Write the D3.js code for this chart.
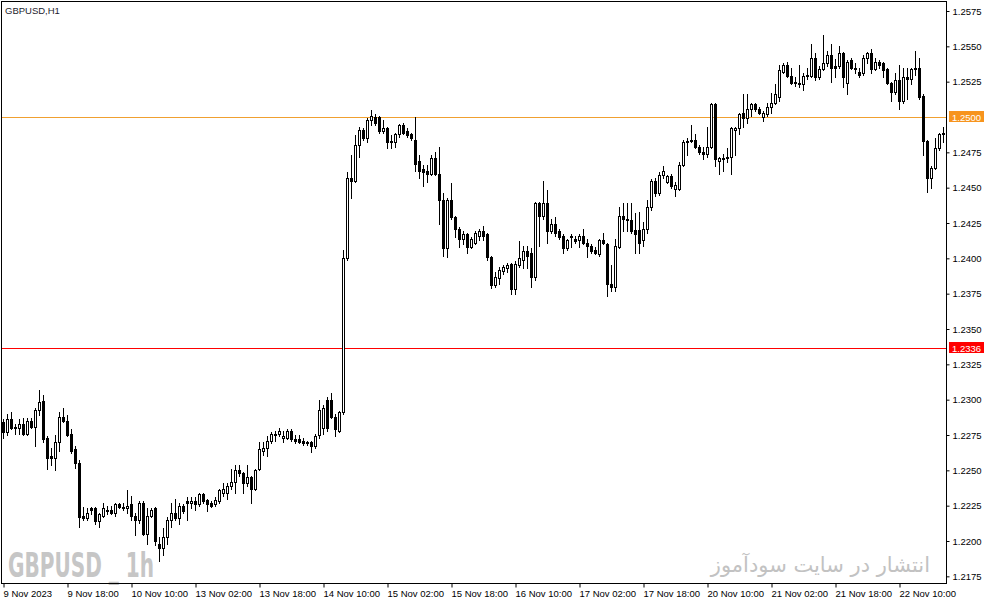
<!DOCTYPE html>
<html><head><meta charset="utf-8">
<script src="https://cdn.jsdelivr.net/npm/d3@7"></script>
<style>body{margin:0;background:#fff}svg{display:block}</style>
</head><body>
<svg id="c" width="987" height="605"></svg>
<script>
// ---- DATA (GBPUSD H1, 9 Nov 2023 02:00 ... 22 Nov 2023 21:00) ----
const open = [1.2284,1.2277,1.2286,1.2281,1.2280,1.2283,1.2276,1.2285,1.2281,1.2293,1.2299,1.2273,1.2260,1.2259,1.2270,1.2288,1.2285,1.2276,1.2265,1.2255,
1.2218,1.2216,1.2223,1.2223,1.2214,1.2218,1.2221,1.2222,1.2220,1.2226,1.2224,1.2223,1.2226,1.2218,1.2215,1.2227,1.2205,1.2218,1.2223,1.2198,
1.2195,1.2203,1.2215,1.2220,1.2216,1.2225,1.2228,1.2227,1.2228,1.2226,1.2233,1.2229,1.2227,1.2226,1.2228,1.2234,1.2234,1.2239,1.2242,1.2250,
1.2248,1.2241,1.2245,1.2237,1.2251,1.2264,1.2266,1.2271,1.2276,1.2276,1.2273,1.2273,1.2278,1.2272,1.2272,1.2271,1.2270,1.2270,1.2267,1.2275,
1.2280,1.2300,1.2300,1.2288,1.2278,1.2291,1.2400,1.2457,1.2455,1.2480,1.2491,1.2485,1.2498,1.2500,1.2500,1.2490,1.2492,1.2483,1.2482,1.2488,
1.2494,1.2490,1.2488,1.2484,1.2469,1.2463,1.2462,1.2460,1.2471,1.2460,1.2441,1.2407,1.2441,1.2429,1.2421,1.2414,1.2417,1.2408,1.2411,1.2416,
1.2419,1.2417,1.2401,1.2381,1.2386,1.2391,1.2393,1.2396,1.2378,1.2395,1.2399,1.2405,1.2404,1.2387,1.2439,1.2430,1.2439,1.2419,1.2424,1.2419,
1.2416,1.2407,1.2415,1.2414,1.2413,1.2416,1.2411,1.2409,1.2406,1.2403,1.2413,1.2410,1.2382,1.2380,1.2408,1.2430,1.2427,1.2427,1.2420,1.2420,
1.2413,1.2421,1.2436,1.2455,1.2446,1.2459,1.2454,1.2458,1.2449,1.2449,1.2466,1.2482,1.2484,1.2484,1.2479,1.2475,1.2474,1.2479,1.2509,1.2469,
1.2470,1.2471,1.2472,1.2491,1.2492,1.2503,1.2499,1.2506,1.2509,1.2506,1.2500,1.2502,1.2507,1.2510,1.2514,1.2532,1.2537,1.2529,1.2525,1.2524,
1.2523,1.2530,1.2529,1.2542,1.2528,1.2534,1.2538,1.2544,1.2536,1.2536,1.2545,1.2524,1.2540,1.2535,1.2532,1.2531,1.2542,1.2545,1.2534,1.2539,
1.2538,1.2534,1.2524,1.2518,1.2526,1.2511,1.2528,1.2527,1.2534,1.2535,1.2515,1.2483,1.2457,1.2464,1.2478,1.2489];
const high = [1.2286,1.2290,1.2291,1.2283,1.2286,1.2287,1.2287,1.2287,1.2294,1.2307,1.2303,1.2274,1.2266,1.2275,1.2291,1.2294,1.2289,1.2279,1.2267,1.2257,
1.2224,1.2223,1.2224,1.2224,1.2220,1.2227,1.2225,1.2225,1.2227,1.2227,1.2227,1.2236,1.2232,1.2220,1.2228,1.2228,1.2223,1.2223,1.2224,1.2203,
1.2209,1.2217,1.2227,1.2230,1.2227,1.2226,1.2231,1.2231,1.2231,1.2234,1.2234,1.2230,1.2228,1.2231,1.2237,1.2241,1.2241,1.2251,1.2254,1.2254,
1.2249,1.2254,1.2246,1.2251,1.2270,1.2270,1.2274,1.2277,1.2278,1.2280,1.2278,1.2279,1.2279,1.2275,1.2275,1.2273,1.2271,1.2271,1.2276,1.2300,
1.2296,1.2302,1.2305,1.2290,1.2292,1.2406,1.2461,1.2473,1.2487,1.2493,1.2492,1.2499,1.2505,1.2502,1.2501,1.2498,1.2493,1.2487,1.2489,1.2495,
1.2496,1.2492,1.2489,1.2500,1.2473,1.2466,1.2466,1.2473,1.2475,1.2479,1.2446,1.2443,1.2453,1.2430,1.2422,1.2419,1.2418,1.2415,1.2419,1.2421,
1.2423,1.2418,1.2402,1.2390,1.2394,1.2395,1.2397,1.2397,1.2398,1.2412,1.2409,1.2409,1.2407,1.2440,1.2440,1.2455,1.2448,1.2428,1.2429,1.2421,
1.2417,1.2414,1.2417,1.2416,1.2417,1.2421,1.2414,1.2410,1.2408,1.2414,1.2418,1.2411,1.2395,1.2414,1.2436,1.2439,1.2439,1.2439,1.2432,1.2433,
1.2426,1.2441,1.2456,1.2457,1.2461,1.2465,1.2459,1.2460,1.2454,1.2468,1.2484,1.2485,1.2494,1.2488,1.2480,1.2479,1.2493,1.2510,1.2510,1.2472,
1.2474,1.2478,1.2493,1.2493,1.2503,1.2516,1.2516,1.2510,1.2510,1.2507,1.2504,1.2510,1.2517,1.2523,1.2537,1.2538,1.2539,1.2535,1.2528,1.2537,
1.2531,1.2535,1.2552,1.2545,1.2536,1.2558,1.2547,1.2552,1.2541,1.2550,1.2546,1.2540,1.2542,1.2538,1.2535,1.2544,1.2546,1.2548,1.2542,1.2540,
1.2539,1.2535,1.2525,1.2531,1.2537,1.2535,1.2535,1.2535,1.2547,1.2542,1.2516,1.2484,1.2465,1.2485,1.2489,1.2493];
const low = [1.2273,1.2275,1.2279,1.2276,1.2276,1.2275,1.2275,1.2280,1.2267,1.2289,1.2270,1.2251,1.2254,1.2250,1.2264,1.2284,1.2274,1.2262,1.2252,1.2210,
1.2215,1.2215,1.2219,1.2212,1.2210,1.2217,1.2219,1.2219,1.2218,1.2223,1.2222,1.2220,1.2215,1.2204,1.2213,1.2204,1.2198,1.2217,1.2197,1.2186,
1.2190,1.2198,1.2210,1.2215,1.2212,1.2220,1.2215,1.2223,1.2222,1.2225,1.2227,1.2221,1.2224,1.2225,1.2227,1.2232,1.2230,1.2237,1.2234,1.2246,
1.2234,1.2239,1.2227,1.2236,1.2250,1.2261,1.2260,1.2269,1.2271,1.2274,1.2270,1.2272,1.2271,1.2269,1.2269,1.2268,1.2268,1.2263,1.2266,1.2273,
1.2276,1.2278,1.2287,1.2274,1.2277,1.2290,1.2399,1.2443,1.2454,1.2472,1.2484,1.2482,1.2494,1.2494,1.2489,1.2489,1.2478,1.2478,1.2479,1.2486,
1.2488,1.2486,1.2484,1.2462,1.2457,1.2451,1.2454,1.2459,1.2459,1.2424,1.2402,1.2401,1.2428,1.2415,1.2408,1.2410,1.2404,1.2407,1.2410,1.2413,
1.2413,1.2399,1.2379,1.2380,1.2382,1.2389,1.2390,1.2375,1.2375,1.2394,1.2393,1.2393,1.2380,1.2385,1.2409,1.2428,1.2411,1.2418,1.2416,1.2414,
1.2404,1.2406,1.2408,1.2411,1.2408,1.2410,1.2401,1.2404,1.2403,1.2402,1.2410,1.2373,1.2377,1.2377,1.2407,1.2419,1.2419,1.2418,1.2404,1.2404,
1.2409,1.2418,1.2434,1.2444,1.2445,1.2457,1.2453,1.2450,1.2444,1.2448,1.2465,1.2473,1.2482,1.2478,1.2474,1.2470,1.2472,1.2478,1.2465,1.2460,
1.2462,1.2468,1.2460,1.2473,1.2488,1.2493,1.2496,1.2501,1.2504,1.2502,1.2497,1.2501,1.2503,1.2509,1.2511,1.2531,1.2528,1.2523,1.2522,1.2521,
1.2519,1.2527,1.2528,1.2526,1.2527,1.2533,1.2536,1.2525,1.2528,1.2535,1.2521,1.2516,1.2534,1.2531,1.2528,1.2530,1.2538,1.2531,1.2533,1.2535,
1.2528,1.2523,1.2511,1.2516,1.2506,1.2510,1.2513,1.2523,1.2530,1.2513,1.2473,1.2447,1.2450,1.2463,1.2477,1.2482];
const close = [1.2277,1.2286,1.2280,1.2280,1.2283,1.2276,1.2285,1.2281,1.2293,1.2298,1.2272,1.2259,1.2259,1.2270,1.2288,1.2285,1.2275,1.2264,1.2255,1.2217,
1.2216,1.2220,1.2222,1.2214,1.2219,1.2223,1.2222,1.2220,1.2226,1.2224,1.2223,1.2225,1.2218,1.2215,1.2227,1.2205,1.2218,1.2222,1.2200,1.2195,
1.2203,1.2215,1.2220,1.2216,1.2225,1.2221,1.2227,1.2228,1.2226,1.2233,1.2228,1.2226,1.2225,1.2229,1.2236,1.2237,1.2239,1.2242,1.2250,1.2248,
1.2241,1.2245,1.2237,1.2250,1.2265,1.2266,1.2271,1.2276,1.2275,1.2278,1.2274,1.2278,1.2272,1.2271,1.2270,1.2269,1.2269,1.2267,1.2274,1.2293,
1.2294,1.2280,1.2288,1.2279,1.2291,1.2400,1.2457,1.2455,1.2480,1.2491,1.2485,1.2498,1.2501,1.2496,1.2490,1.2492,1.2482,1.2482,1.2488,1.2494,
1.2489,1.2487,1.2485,1.2467,1.2462,1.2461,1.2460,1.2471,1.2460,1.2441,1.2407,1.2441,1.2429,1.2421,1.2414,1.2417,1.2408,1.2414,1.2418,1.2419,
1.2416,1.2401,1.2381,1.2387,1.2392,1.2394,1.2395,1.2378,1.2396,1.2400,1.2405,1.2402,1.2387,1.2439,1.2430,1.2439,1.2419,1.2424,1.2418,1.2415,
1.2407,1.2413,1.2416,1.2412,1.2416,1.2411,1.2409,1.2405,1.2404,1.2413,1.2411,1.2382,1.2380,1.2409,1.2430,1.2428,1.2428,1.2419,1.2417,1.2411,
1.2421,1.2436,1.2455,1.2446,1.2459,1.2462,1.2458,1.2451,1.2452,1.2466,1.2482,1.2483,1.2483,1.2479,1.2475,1.2474,1.2479,1.2509,1.2470,1.2471,
1.2471,1.2472,1.2492,1.2492,1.2502,1.2499,1.2506,1.2509,1.2506,1.2503,1.2503,1.2507,1.2510,1.2516,1.2533,1.2537,1.2529,1.2524,1.2524,1.2523,
1.2529,1.2529,1.2542,1.2528,1.2534,1.2538,1.2544,1.2535,1.2535,1.2545,1.2528,1.2539,1.2535,1.2534,1.2530,1.2542,1.2545,1.2534,1.2539,1.2537,
1.2533,1.2524,1.2518,1.2526,1.2511,1.2528,1.2527,1.2534,1.2535,1.2514,1.2483,1.2457,1.2464,1.2478,1.2488,1.2488];

const priceTicks = [1.2575,1.2550,1.2525,1.2475,1.2450,1.2425,1.2400,1.2375,1.2350,1.2325,1.2300,1.2275,1.2250,1.2225,1.2200,1.2175];
const timeTickIndex = [0,16,32,48,64,80,96,112,128,144,160,176,192,208,224];
const timeTickLabels = ["9 Nov 2023","9 Nov 18:00","10 Nov 10:00","13 Nov 02:00","13 Nov 18:00","14 Nov 10:00","15 Nov 02:00","15 Nov 18:00","16 Nov 10:00","17 Nov 02:00","17 Nov 18:00","20 Nov 10:00","21 Nov 02:00","21 Nov 18:00","22 Nov 10:00"];
const levelPrices = [1.2500, 1.2336];
const levelColors = ["#f0a030", "#ff0000"];
const levelBoxColors = ["#f7941d", "#ff0000"];

// ---- CHART ----
const svg = d3.select("#c");
const plotRight = 946, plotBottom = 583;
const FONT = "'Liberation Sans', Arial, sans-serif";
const N = open.length;
const x = d3.scaleLinear().domain([0, 235]).range([3, 943]);
const y = d3.scaleLinear().domain([1.2200, 1.2575]).range([541, 11]);

svg.append("rect").attr("width", 987).attr("height", 605).attr("fill", "#fff");

// watermarks
svg.append("text").attr("x", 8).attr("y", 577)
  .attr("font-family", "'DejaVu Sans Condensed','DejaVu Sans',sans-serif").attr("font-weight", "bold")
  .attr("font-size", 33).attr("fill", "#c6c6c6")
  .attr("textLength", 146).attr("lengthAdjust", "spacingAndGlyphs")
  .text("GBPUSD _ 1h");
svg.append("text").attr("x", 930).attr("y", 572).attr("text-anchor", "end")
  .attr("font-family", "'DejaVu Sans',sans-serif").attr("font-size", 21).attr("fill", "#c2c2c2")
  .text("انتشار در سایت سودآموز");

// level lines
const lv = svg.append("g");
levelPrices.forEach((p, k) => {
  const yy = Math.floor(y(p)) + 0.5;
  lv.append("line").attr("x1", 2).attr("x2", plotRight).attr("y1", yy).attr("y2", yy)
    .attr("stroke", levelColors[k]).attr("stroke-width", 1);
});

// candles
const idx = d3.range(N);
const g = svg.append("g");
g.selectAll("line.w").data(idx).join("line")
  .attr("x1", i => x(i) + 0.5).attr("x2", i => x(i) + 0.5)
  .attr("y1", i => Math.round(y(high[i]))).attr("y2", i => Math.round(y(low[i])) + 1)
  .attr("stroke", "#000").attr("stroke-width", 1);
g.selectAll("rect.b").data(idx).join("rect")
  .each(function(i) {
    const top = Math.round(y(Math.max(open[i], close[i])));
    const bot = Math.round(y(Math.min(open[i], close[i])));
    const el = d3.select(this);
    if (close[i] > open[i] && bot - top >= 2) {
      el.attr("x", x(i) - 0.5).attr("y", top + 0.5).attr("width", 2).attr("height", bot - top)
        .attr("fill", "#fff").attr("stroke", "#000").attr("stroke-width", 1);
    } else {
      el.attr("x", x(i) - 1).attr("y", top).attr("width", 3).attr("height", Math.max(1, bot - top + 1))
        .attr("fill", "#000");
    }
  });

// frame
svg.append("rect").attr("x", 1.5).attr("y", 1.5).attr("width", plotRight - 1).attr("height", plotBottom - 1)
  .attr("fill", "none").attr("stroke", "#000").attr("stroke-width", 1);

// right price axis
const ay = svg.append("g").attr("transform", `translate(${plotRight + 0.5},0)`)
  .call(d3.axisRight(y).tickValues(priceTicks).tickSize(3).tickPadding(3).tickFormat(d3.format(".4f")));
ay.select(".domain").remove();
ay.selectAll("text").attr("font-family", FONT).attr("font-size", 9.5).attr("fill", "#000").attr("x", 6);
ay.selectAll("line").attr("stroke", "#000");

// level labels
levelPrices.forEach((p, k) => {
  const yy = Math.floor(y(p));
  svg.append("rect").attr("x", 949).attr("y", yy - 6).attr("width", 35).attr("height", 11).attr("fill", levelBoxColors[k]);
  svg.append("text").attr("x", 952).attr("y", yy + 3.5).attr("font-family", FONT).attr("font-size", 9.5)
    .attr("fill", "#fff").text(d3.format(".4f")(p));
});

// bottom time axis
const ax = svg.append("g").attr("transform", `translate(0.5,${plotBottom + 0.5})`)
  .call(d3.axisBottom(x).tickValues(timeTickIndex).tickSize(4).tickFormat((d, i) => timeTickLabels[i]));
ax.select(".domain").remove();
ax.selectAll("line").attr("stroke", "#000");
ax.selectAll("text").attr("font-family", FONT).attr("font-size", 9.5).attr("fill", "#000")
  .attr("text-anchor", "start").attr("x", -0.5).attr("y", 13).attr("dy", 0);

// title
svg.append("text").attr("x", 5).attr("y", 14).attr("font-family", FONT).attr("font-size", 9.5)
  .attr("fill", "#1c1c2c").text("GBPUSD,H1");
</script>
</body></html>
